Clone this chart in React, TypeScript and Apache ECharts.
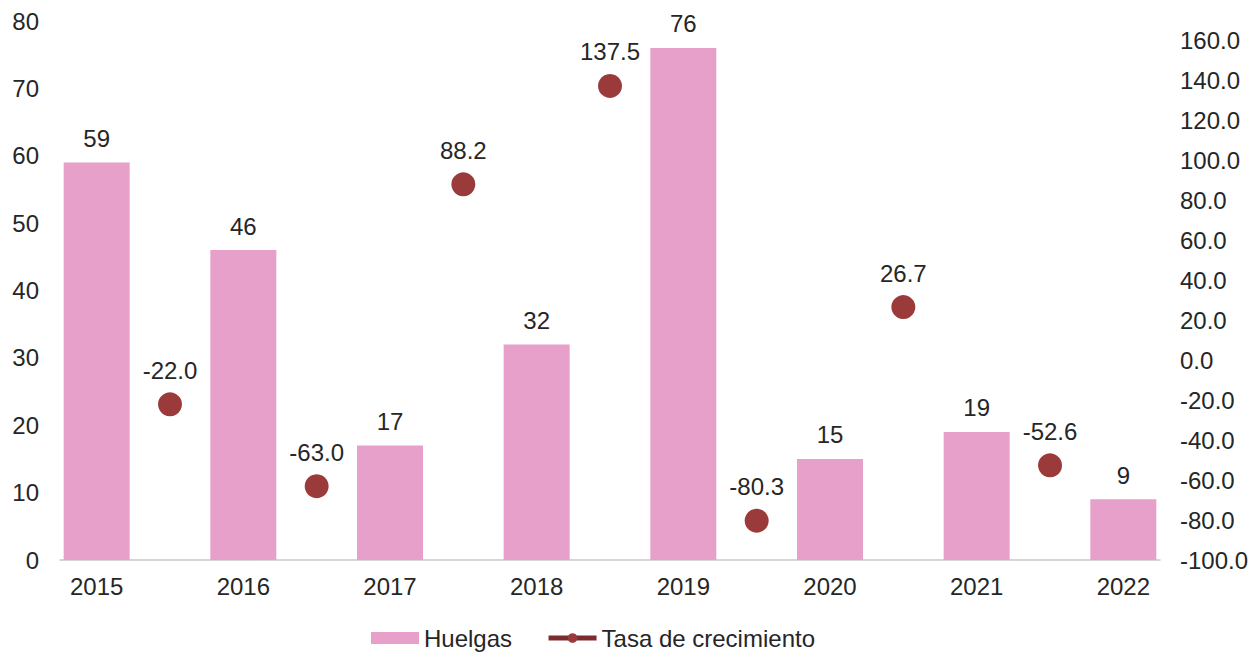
import React, { useEffect, useRef } from "react";
import * as echarts from "echarts";

const years = ["2015", "2016", "2017", "2018", "2019", "2020", "2021", "2022"];
const huelgas = [59, 46, 17, 32, 76, 15, 19, 9];
// growth rate placed between consecutive years
const tasa = [-22.0, -63.0, 88.2, 137.5, -80.3, 26.7, -52.6];
const leftTicks = { min: 0, max: 80, interval: 10 };
const rightTicks = { min: -100, max: 170, interval: 20 };

const FONT = "'Liberation Sans', Arial, sans-serif";
const TEXT = "#262626";

export default function App() {
  const ref = useRef<HTMLDivElement>(null);

  useEffect(() => {
    if (!ref.current) return;
    const chart = echarts.init(ref.current, undefined, { renderer: "svg" });

    // interleaved slots: year, gap, year, gap, ...
    const slots: string[] = [];
    const barData: (number | null)[] = [];
    const lineData: (number | null)[] = [];
    years.forEach((y, i) => {
      slots.push(y);
      barData.push(huelgas[i]);
      lineData.push(null);
      if (i < tasa.length) {
        slots.push("");
        barData.push(null);
        lineData.push(tasa[i]);
      }
    });

    chart.setOption({
      animation: false,
      textStyle: { fontFamily: FONT },
      grid: { left: 60, right: 96, top: 21, bottom: 95, containLabel: false },
      legend: {
        top: 621,
        left: 366,
        itemWidth: 48,
        itemHeight: 12,
        itemGap: 34,
        textStyle: { fontSize: 24, color: TEXT, fontFamily: FONT },
        data: [
          { name: "Huelgas", icon: "rect" },
          {
            name: "Tasa de crecimiento",
            lineStyle: { color: "#7B2C2C", width: 5, opacity: 1 },
            itemStyle: { color: "#9B3A3A" },
          },
        ],
      },
      xAxis: {
        type: "category",
        data: slots,
        axisLine: { show: true, lineStyle: { color: "#C8C8C8", width: 1.5 } },
        axisTick: { show: false },
        axisLabel: { interval: 0, fontSize: 24, color: TEXT, margin: 14, fontFamily: FONT },
        splitLine: { show: false },
      },
      yAxis: [
        {
          type: "value",
          ...leftTicks,
          axisLine: { show: false },
          axisTick: { show: false },
          splitLine: { show: false },
          axisLabel: { fontSize: 24, color: TEXT, margin: 21, fontFamily: FONT },
        },
        {
          type: "value",
          position: "right",
          ...rightTicks,
          axisLine: { show: false },
          axisTick: { show: false },
          splitLine: { show: false },
          axisLabel: {
            fontSize: 24,
            color: TEXT,
            margin: 20,
            fontFamily: FONT,
            showMaxLabel: false,
            formatter: (v: number) => v.toFixed(1),
          },
        },
      ],
      series: [
        {
          name: "Huelgas",
          type: "bar",
          yAxisIndex: 0,
          data: barData,
          barWidth: "90%",
          itemStyle: { color: "#E6A0C9" },
          label: {
            show: true,
            position: "top",
            distance: 12,
            fontSize: 24,
            color: TEXT,
            fontFamily: FONT,
          },
        },
        {
          name: "Tasa de crecimiento",
          type: "line",
          yAxisIndex: 1,
          data: lineData,
          connectNulls: false,
          symbol: "circle",
          symbolSize: 24,
          showAllSymbol: true,
          lineStyle: { color: "#7B2C2C", width: 5 },
          itemStyle: { color: "#9B3A3A" },
          label: {
            show: true,
            position: "top",
            distance: 10,
            fontSize: 24,
            color: TEXT,
            fontFamily: FONT,
            formatter: (p: any) => (p.value == null ? "" : Number(p.value).toFixed(1)),
          },
        },
      ],
    });

    return () => chart.dispose();
  }, []);

  return (
    <div
      ref={ref}
      style={{ position: "fixed", left: 0, top: 0, width: 1256, height: 655, background: "#fff" }}
    />
  );
}
